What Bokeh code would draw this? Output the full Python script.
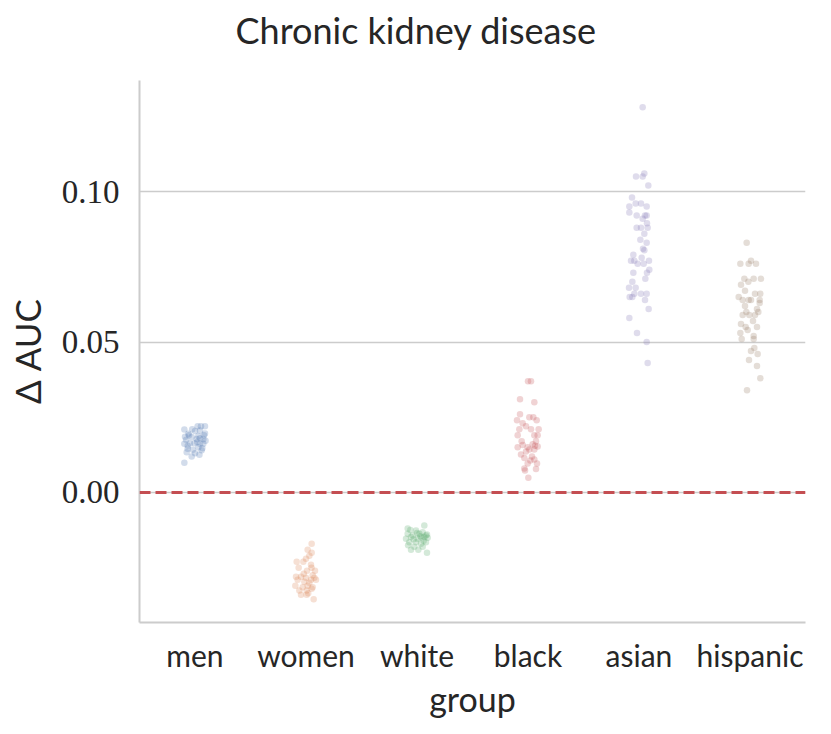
from bokeh.plotting import figure
from bokeh.models import FixedTicker, Span, ColumnDataSource
from bokeh.embed import file_html
from bokeh.resources import INLINE

title_text = "Chronic kidney disease"
groups = ["men", "women", "white", "black", "asian", "hispanic"]
colors = ["#4C72B0", "#DD8452", "#55A868", "#C44E52", "#8172B3", "#937860"]
y_ticks = [0.00, 0.05, 0.10]
y_tick_labels = ["0.00", "0.05", "0.10"]

men_vals = [0.0209, 0.0195, 0.019, 0.022, 0.022, 0.022, 0.0204, 0.0206, 0.019, 0.0184,
            0.0178, 0.018, 0.0178, 0.0162, 0.0164, 0.0164, 0.0162, 0.0162, 0.0145, 0.015,
            0.0147, 0.0134, 0.013, 0.014, 0.012, 0.0099, 0.0175, 0.021, 0.0188, 0.0155,
            0.0172, 0.0142, 0.0125, 0.0196, 0.0185, 0.0168]
men_jit = [-0.096, -0.06, -0.054, 0.024, 0.054, 0.09, 0.0, 0.045, 0.081, -0.03,
           0.015, 0.045, 0.075, -0.096, -0.045, -0.006, 0.045, 0.075, -0.066, 0.03,
           0.066, -0.075, 0.0, 0.06, -0.03, -0.096, -0.08, -0.025, 0.03, -0.065,
           0.095, -0.02, 0.04, 0.09, -0.09, 0.02]

women_vals = [-0.017, -0.019, -0.020, -0.021, -0.023, -0.023, -0.024, -0.025, -0.026, -0.026,
              -0.028, -0.028, -0.0283, -0.0283, -0.029, -0.0297, -0.029, -0.029, -0.031, -0.0315,
              -0.031, -0.0315, -0.0326, -0.0326, -0.032, -0.034, -0.034, -0.0355, -0.027, -0.030,
              -0.025, -0.0335, -0.022, -0.0275]
women_jit = [0.051, 0.015, 0.051, 0.03, -0.084, -0.024, 0.045, -0.066, 0.009, 0.081,
             -0.09, -0.045, 0.0, 0.075, -0.075, -0.015, 0.045, 0.09, -0.096, -0.03,
             0.015, 0.06, -0.06, 0.006, 0.051, -0.045, 0.006, 0.069, -0.02, 0.03,
             0.05, 0.02, 0.0, 0.06]

white_vals = [-0.011, -0.012, -0.0126, -0.0132, -0.0137, -0.0143, -0.0137, -0.0143, -0.0154, -0.0148,
              -0.0154, -0.0148, -0.015, -0.0165, -0.0165, -0.017, -0.0165, -0.018, -0.018, -0.019,
              -0.019, -0.020, -0.0145, -0.0155, -0.016, -0.0135, -0.014, -0.0125, -0.0175, -0.015]
white_jit = [0.066, -0.084, -0.009, 0.051, -0.084, -0.039, 0.021, 0.081, -0.099, -0.054,
             0.006, 0.066, 0.096, -0.069, -0.009, 0.036, 0.081, -0.024, 0.051, -0.054,
             0.012, 0.09, 0.03, -0.03, 0.06, 0.0, 0.09, -0.06, -0.08, 0.04]

black_vals = [0.037, 0.037, 0.031, 0.030, 0.026, 0.024, 0.025, 0.025, 0.024, 0.023,
              0.022, 0.021, 0.021, 0.021, 0.019, 0.019, 0.019, 0.017, 0.017, 0.015,
              0.0158, 0.015, 0.016, 0.0155, 0.0143, 0.0136, 0.0153, 0.0143, 0.0126, 0.012,
              0.0115, 0.011, 0.0106, 0.0096, 0.0096, 0.008, 0.0078, 0.0073, 0.0049]
black_jit = [0.0, 0.027, -0.072, 0.057, -0.072, -0.099, 0.012, 0.048, 0.078, -0.048,
             -0.018, -0.078, 0.027, 0.096, -0.093, 0.057, 0.087, -0.057, 0.072, -0.093,
             -0.048, -0.003, 0.042, 0.063, 0.012, -0.018, 0.087, 0.057, -0.063, 0.036,
             -0.033, 0.057, 0.021, 0.081, -0.003, -0.033, 0.072, -0.027, 0.003]

asian_vals = [0.128, 0.105, 0.105, 0.106, 0.102, 0.098, 0.095, 0.096, 0.096, 0.095,
              0.093, 0.092, 0.092, 0.092, 0.091, 0.088, 0.088, 0.0895, 0.088, 0.086,
              0.084, 0.083, 0.081, 0.0805, 0.079, 0.077, 0.077, 0.077, 0.078, 0.076,
              0.076, 0.074, 0.073, 0.073, 0.071, 0.070, 0.068, 0.068, 0.066, 0.066,
              0.066, 0.065, 0.065, 0.064, 0.061, 0.058, 0.053, 0.050, 0.043]
asian_jit = [0.033, -0.027, 0.033, 0.048, 0.084, -0.063, -0.087, -0.03, 0.018, 0.069,
             -0.087, -0.021, 0.054, 0.069, 0.033, -0.021, 0.078, 0.072, 0.018, 0.048,
             0.012, 0.069, 0.036, 0.048, -0.051, -0.072, -0.042, 0.09, 0.024, 0.042,
             -0.012, 0.093, 0.072, -0.051, 0.057, -0.06, -0.03, -0.09, 0.018, 0.069,
             -0.042, -0.084, -0.06, 0.054, 0.087, -0.087, -0.018, 0.069, 0.078]

hispanic_vals = [0.083, 0.076, 0.077, 0.076, 0.076, 0.071, 0.071, 0.071, 0.070, 0.069,
                 0.067, 0.066, 0.066, 0.065, 0.064, 0.064, 0.064, 0.064, 0.063, 0.062,
                 0.061, 0.060, 0.060, 0.059, 0.059, 0.059, 0.056, 0.057, 0.055, 0.055,
                 0.053, 0.054, 0.051, 0.051, 0.052, 0.048, 0.047, 0.046, 0.044, 0.042,
                 0.038, 0.034]
hispanic_jit = [-0.03, -0.087, 0.009, 0.054, -0.012, 0.033, 0.099, -0.051, -0.015, -0.081,
                -0.045, 0.045, 0.093, -0.102, -0.066, -0.012, 0.009, 0.087, 0.087, -0.045,
                0.063, -0.033, 0.075, -0.066, -0.006, 0.045, -0.081, 0.027, -0.039, 0.063,
                -0.087, -0.021, -0.075, 0.033, 0.033, 0.039, 0.009, 0.069, -0.009, 0.063,
                0.093, -0.027]

all_vals = [men_vals, women_vals, white_vals, black_vals, asian_vals, hispanic_vals]
all_jit = [men_jit, women_jit, white_jit, black_jit, asian_jit, hispanic_jit]

SANS = "Lato"
SERIF = "Liberation Serif"

p = figure(width=823, height=726, output_backend="svg", toolbar_location=None,
           x_range=(-0.5, 5.5), y_range=(-0.0432, 0.1369),
           min_border_left=139, min_border_right=18, min_border_top=80,
           min_border_bottom=104)

p.title.text = title_text
p.title.align = "left"
p.title.vertical_align = "bottom"
p.title.offset = 96
p.title.text_font = SANS
p.title.text_font_size = "36px"
p.title.text_font_style = "normal"
p.title.text_color = "#262626"
p.title.standoff = 10
try:
    p.title.padding = dict(left=0, right=0, top=0, bottom=24)
except Exception:
    p.title.standoff = 32
    p.title.vertical_align = "top"

for i, (vals, jit) in enumerate(zip(all_vals, all_jit)):
    src = ColumnDataSource(dict(x=[i + j for j in jit], y=vals))
    p.scatter("x", "y", source=src, size=6.5, fill_color=colors[i], fill_alpha=0.25,
              line_color=None)

p.add_layout(Span(location=0, dimension="width", line_color="#C44E52",
                  line_width=2.8, line_dash="11 5"))

p.outline_line_color = None
p.background_fill_color = "white"
p.border_fill_color = "white"

p.xgrid.visible = False
p.ygrid.grid_line_color = "#cccccc"
p.ygrid.grid_line_width = 1.5
p.ygrid.ticker = FixedTicker(ticks=y_ticks)

p.xaxis.ticker = FixedTicker(ticks=list(range(len(groups))))
p.xaxis.major_label_overrides = {i: g for i, g in enumerate(groups)}
p.yaxis.ticker = FixedTicker(ticks=y_ticks)
p.yaxis.major_label_overrides = {t: l for t, l in zip(y_ticks, y_tick_labels)}

for ax in (p.xaxis[0], p.yaxis[0]):
    ax.axis_line_color = "#cccccc"
    ax.axis_line_width = 2
    ax.major_tick_line_color = None
    ax.minor_tick_line_color = None
    ax.major_label_text_color = "#262626"
    ax.axis_label_text_color = "#262626"
    ax.axis_label_text_font_style = "normal"

p.xaxis.major_label_text_font = SANS
p.xaxis.major_label_text_font_size = "30px"
p.xaxis.major_label_standoff = 8
p.xaxis.axis_label = "group"
p.xaxis.axis_label_text_font = SANS
p.xaxis.axis_label_text_font_size = "34px"
p.xaxis.axis_label_standoff = 2

p.yaxis.major_label_text_font = SERIF
p.yaxis.major_label_text_font_size = "33px"
p.yaxis.major_label_standoff = 14
p.yaxis.axis_label = "Δ AUC"
p.yaxis.axis_label_text_font = SANS
p.yaxis.axis_label_text_font_size = "35px"
p.yaxis.axis_label_standoff = 11

open("out.html", "w").write(file_html(p, INLINE))
